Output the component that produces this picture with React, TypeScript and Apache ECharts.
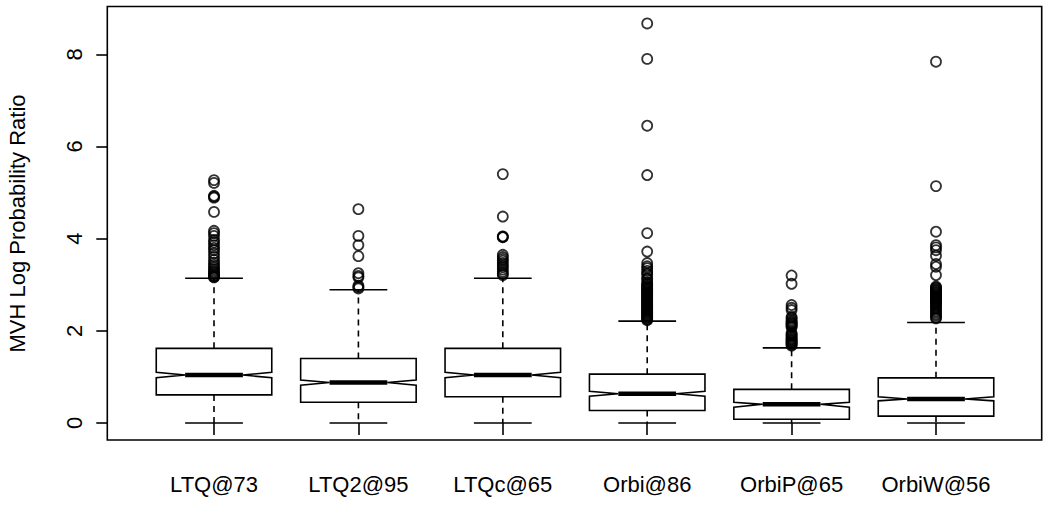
import React, { useEffect, useRef } from "react";
import * as echarts from "echarts";

const categories = ["LTQ@73", "LTQ2@95", "LTQc@65", "Orbi@86", "OrbiP@65", "OrbiW@56"];
const lowerWhisker = [0, 0, 0, 0, 0, 0];
const q1 = [0.61, 0.45, 0.57, 0.27, 0.08, 0.15];
const notchLow = [0.98, 0.82, 0.98, 0.58, 0.34, 0.48];
const median = [1.04, 0.88, 1.04, 0.636, 0.405, 0.52];
const notchHigh = [1.1, 0.93, 1.1, 0.69, 0.45, 0.57];
const q3 = [1.62, 1.4, 1.62, 1.06, 0.73, 0.98];
const upperWhisker = [3.14, 2.89, 3.14, 2.21, 1.63, 2.18];

const outliersLTQ = [5.27, 5.21, 4.93, 4.91, 4.89, 4.58, 4.17, 4.12, 4.06, 3.97, 3.92, 3.86, 3.8, 3.75, 3.68, 3.61, 3.54, 3.48, 3.43, 3.38, 3.34, 3.3, 3.27, 3.24, 3.21, 3.19, 3.17, 3.16];
const outliersLTQ2 = [4.64, 4.06, 3.86, 3.62, 3.25, 3.19, 3.16, 2.98, 2.95, 2.92];
const outliersLTQc = [5.4, 4.48, 4.05, 4.04, 4.03, 3.65, 3.6, 3.56, 3.52, 3.47, 3.42, 3.38, 3.33, 3.28, 3.24, 3.21];
const outliersOrbi = [8.67, 7.9, 6.45, 5.38, 4.12, 3.72, 3.47, 3.4, 3.36, 3.3, 3.25, 3.22, 3.14, 3.12, 3.05, 3.02, 2.99, 2.97, 2.95, 2.93, 2.91, 2.89, 2.87, 2.85, 2.83, 2.81, 2.79, 2.77, 2.75, 2.73, 2.71, 2.69, 2.67, 2.65, 2.63, 2.61, 2.59, 2.57, 2.55, 2.53, 2.51, 2.49, 2.47, 2.45, 2.43, 2.41, 2.39, 2.37, 2.35, 2.33, 2.31, 2.29, 2.27, 2.25, 2.23];
const outliersOrbiP = [3.2, 3.02, 2.56, 2.5, 2.45, 2.3, 2.27, 2.23, 2.2, 2.18, 2.16, 2.14, 2.12, 2.1, 2.08, 1.95, 1.92, 1.9, 1.87, 1.84, 1.82, 1.8, 1.78, 1.76, 1.74, 1.72, 1.7, 1.68];
const outliersOrbiW = [7.84, 5.14, 4.15, 3.86, 3.81, 3.75, 3.63, 3.45, 3.39, 3.21, 2.96, 2.94, 2.92, 2.9, 2.88, 2.86, 2.84, 2.82, 2.8, 2.78, 2.76, 2.74, 2.72, 2.7, 2.68, 2.66, 2.64, 2.62, 2.6, 2.58, 2.56, 2.53, 2.5, 2.47, 2.43, 2.4, 2.36, 2.33, 2.29, 2.27];
const outlierGroups = [outliersLTQ, outliersLTQ2, outliersLTQc, outliersOrbi, outliersOrbiP, outliersOrbiW];

const yTicks = [0, 2, 4, 6, 8];
const xPositions = [1, 2, 3, 4, 5, 6];

const FONT = '"Liberation Sans", Arial, Helvetica, sans-serif';

export default function App() {
  const ref = useRef<HTMLDivElement>(null);
  useEffect(() => {
    if (!ref.current) return;
    const chart = echarts.init(ref.current, undefined, { renderer: "svg" });
    const boxData = categories.map((_, i) => [
      i + 1, lowerWhisker[i], q1[i], notchLow[i], median[i], notchHigh[i], q3[i], upperWhisker[i],
    ]);
    const outlierData: number[][] = [];
    outlierGroups.forEach((g, i) => g.forEach((v) => outlierData.push([i + 1, v])));
    const stroke = "#000";
    chart.setOption({
      animation: false,
      backgroundColor: "#fff",
      textStyle: { fontFamily: FONT },
      grid: {
        show: true,
        left: 107.3,
        top: 6.5,
        width: 934.4,
        height: 433.5,
        borderColor: "#000",
        borderWidth: 1.6,
        backgroundColor: "transparent",
      },
      xAxis: {
        type: "value",
        min: 0.261,
        max: 6.732,
        axisLine: { show: false },
        splitLine: { show: false },
        axisTick: { show: true, customValues: xPositions, length: 12, lineStyle: { color: "#000", width: 1.6 } },
        axisLabel: {
          customValues: xPositions,
          formatter: (v: number) => categories[Math.round(v) - 1] ?? "",
          fontSize: 22,
          color: "#000",
          margin: 33,
          fontFamily: FONT,
        },
      },
      yAxis: {
        type: "value",
        min: -0.369,
        max: 9.037,
        axisLine: { show: false },
        splitLine: { show: false },
        axisTick: { show: true, customValues: yTicks, length: 11, lineStyle: { color: "#000", width: 1.6 } },
        axisLabel: {
          customValues: yTicks,
          rotate: 90,
          fontSize: 22,
          color: "#000",
          margin: 22,
          fontFamily: FONT,
        },
      },
      graphic: [
        {
          type: "text",
          x: 17,
          y: 223.5,
          rotation: Math.PI / 2,
          style: {
            text: "MVH Log Probability Ratio",
            font: `22px ${FONT}`,
            fill: "#000",
            align: "center",
            verticalAlign: "middle",
          },
        },
      ],
      series: [
        {
          type: "custom",
          data: boxData,
          encode: { x: 0, y: [1, 2, 3, 4, 5, 6, 7] },
          renderItem: (params: any, api: any) => {
            const x = api.value(0);
            const wlo = api.value(1);
            const bq1 = api.value(2);
            const nlo = api.value(3);
            const med = api.value(4);
            const nhi = api.value(5);
            const bq3 = api.value(6);
            const whi = api.value(7);
            const w = 0.4;
            const c = (xx: number, yy: number) => api.coord([xx, yy]);
            const pts = [
              c(x - w, bq1), c(x + w, bq1), c(x + w, nlo), c(x + w * 0.5, med), c(x + w, nhi),
              c(x + w, bq3), c(x - w, bq3), c(x - w, nhi), c(x - w * 0.5, med), c(x - w, nlo),
            ];
            const line = (a: number[], b: number[], width: number, dash?: number[]) => ({
              type: "line",
              shape: { x1: a[0], y1: a[1], x2: b[0], y2: b[1] },
              style: { stroke, lineWidth: width, lineDash: dash, lineCap: "butt" },
            });
            return {
              type: "group",
              children: [
                line(c(x, bq3), c(x, whi), 1.6, [6, 5]),
                line(c(x, bq1), c(x, wlo), 1.6, [6, 5]),
                line(c(x - w * 0.5, whi), c(x + w * 0.5, whi), 1.6),
                line(c(x - w * 0.5, wlo), c(x + w * 0.5, wlo), 1.6),
                {
                  type: "polygon",
                  shape: { points: pts },
                  style: { fill: "#fff", stroke, lineWidth: 1.6, lineJoin: "miter" },
                },
                line(c(x - w * 0.5, med), c(x + w * 0.5, med), 4.5),
              ],
            };
          },
          z: 2,
        },
        {
          type: "scatter",
          data: outlierData,
          symbol: "circle",
          symbolSize: 10,
          itemStyle: { color: "transparent", borderColor: "#000", borderWidth: 1.8 },
          z: 3,
        },
      ],
    });
    return () => chart.dispose();
  }, []);
  return (
    <div
      ref={ref}
      style={{ position: "fixed", left: 0, top: 0, width: 1050, height: 506, background: "#fff" }}
    />
  );
}
